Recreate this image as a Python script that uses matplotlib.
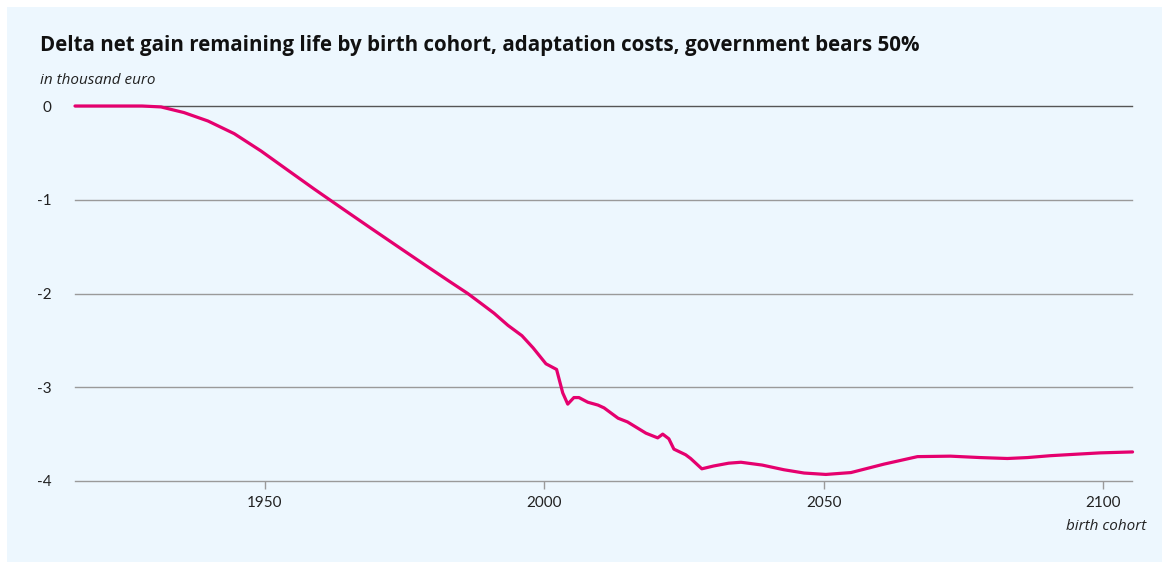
import matplotlib.pyplot as plt
from matplotlib.patches import Rectangle

# birth cohort vs. change in net gain over remaining life (thousand euro)
years = [1916, 1928, 1931.4, 1935.5, 1939.8, 1944.5, 1949.3, 1954.1, 1958.8, 1964, 1969,
         1974.3, 1979, 1983, 1986.3, 1989, 1991, 1993.5, 1996, 1998, 2000.3, 2002.2, 2003.3,
         2004.2, 2005.3, 2006.2, 2007.8, 2009.6, 2010.7, 2013.2, 2014.9, 2018.2, 2020.3,
         2021.2, 2022.3, 2023.2, 2025.3, 2026.2, 2028.2, 2030.3, 2033, 2035.2, 2039, 2042.9,
         2046.5, 2050.4, 2054.9, 2060.8, 2066.8, 2072.7, 2078, 2082.9, 2086.5, 2090.6, 2095,
         2099.5, 2105.3]
delta = [0.0, 0.0, -0.01, -0.07, -0.16, -0.295, -0.48, -0.685, -0.885, -1.10, -1.305,
         -1.52, -1.71, -1.87, -2.00, -2.12, -2.21, -2.34, -2.45, -2.58, -2.75, -2.81, -3.06,
         -3.18, -3.11, -3.11, -3.16, -3.19, -3.22, -3.33, -3.37, -3.49, -3.54,
         -3.50, -3.55, -3.66, -3.72, -3.76, -3.87, -3.84, -3.81, -3.80, -3.83, -3.88,
         -3.915, -3.93, -3.91, -3.82, -3.74, -3.735, -3.75, -3.76, -3.75, -3.73, -3.715,
         -3.70, -3.69]

yticks = [0, -1, -2, -3, -4]
ytick_labels = ['0', '-1', '-2', '-3', '-4']
xticks = [1950, 2000, 2050, 2100]

title = 'Delta net gain remaining life by birth cohort, adaptation costs, government bears 50%'
unit = 'in thousand euro'
xlabel = 'birth cohort'

bg = '#edf7fe'
line_color = '#e5006e'
W, H = 1169, 569

fig = plt.figure(figsize=(W / 100, H / 100), dpi=100)
fig.patch.set_facecolor('white')
fig.patches.append(Rectangle((7 / W, 7 / H), 1155 / W, 555 / H, transform=fig.transFigure,
                             facecolor=bg, edgecolor='none', zorder=-10))

ax = fig.add_axes([75 / W, 1 - 481 / H, 1057 / W, 375 / H])
ax.set_facecolor('none')
ax.set_xlim(1916, 2105.2)
ax.set_ylim(-4, 0)

for v in yticks:
    ax.axhline(v, color='#555555' if v == 0 else '#9a9a9a', lw=1.0, zorder=1, clip_on=False)

ax.plot(years, delta, color=line_color, lw=2.3, zorder=3, clip_on=False,
        solid_joinstyle='round', solid_capstyle='round')

for s in ax.spines.values():
    s.set_visible(False)

ax.set_yticks(yticks)
ax.set_yticklabels(ytick_labels)
ax.tick_params(axis='y', length=0, pad=17, labelsize=11, labelcolor='#222222')
ax.set_xticks(xticks)
ax.tick_params(axis='x', length=6, width=1, color='#9a9a9a', pad=5, labelsize=11,
               labelcolor='#222222')
for lbl in ax.get_xticklabels() + ax.get_yticklabels():
    lbl.set_family('Lato')

fig.text(40 / W, 1 - 45 / H, title, fontsize=14.8, fontweight='bold', family='Open Sans',
         color='#111111', va='center', ha='left')
fig.text(40 / W, 1 - 80 / H, unit, fontsize=11, style='italic', family='Open Sans',
         color='#222222', va='center', ha='left')
fig.text(1146 / W, 1 - 527 / H, xlabel, fontsize=11, style='italic', family='Open Sans',
         color='#222222', va='center', ha='right')

fig.savefig('out.png', dpi=100, facecolor='white')
